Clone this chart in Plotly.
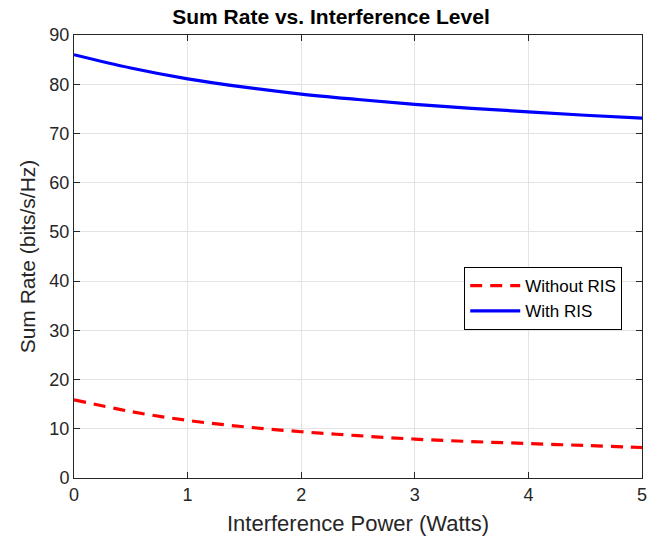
import plotly.graph_objects as go

interference_w = [0, 0.5, 1, 1.5, 2, 2.5, 3, 3.5, 4, 4.5, 5]
rate_without_ris = [15.9, 13.5, 11.7, 10.4, 9.4, 8.6, 7.9, 7.4, 7.0, 6.6, 6.2]
rate_with_ris = [86.0, 83.3, 81.1, 79.4, 78.0, 76.9, 75.9, 75.1, 74.4, 73.7, 73.1]
x_ticks = [0, 1, 2, 3, 4, 5]
y_ticks = [0, 10, 20, 30, 40, 50, 60, 70, 80, 90]

FONT = "Liberation Sans, Arial, Helvetica, sans-serif"
AX = "#262626"

fig = go.Figure()
fig.add_trace(go.Scatter(x=interference_w, y=rate_without_ris, mode="lines",
                         name="Without RIS", line=dict(color="#ff0000", width=3.2, dash="12px,8px", shape="spline")))
fig.add_trace(go.Scatter(x=interference_w, y=rate_with_ris, mode="lines",
                         name="With RIS", line=dict(color="#0000ff", width=3.2, shape="spline")))

axis_common = dict(showline=True, linecolor=AX, linewidth=1, mirror="ticks",
                   ticks="inside", ticklen=6, tickcolor=AX,
                   showgrid=True, gridcolor="#e3e3e3", gridwidth=1, zeroline=False,
                   tickfont=dict(family=FONT, size=18, color=AX))

fig.update_layout(
    width=662, height=545,
    margin=dict(l=74, r=20, t=35, b=67),
    paper_bgcolor="white", plot_bgcolor="white",
    title=dict(text="<b>Sum Rate vs. Interference Level</b>", x=0.5, xanchor="center",
               y=1 - 17 / 545, yanchor="middle", font=dict(family=FONT, size=21, color="black")),
    xaxis=dict(range=[0, 5], tickvals=x_ticks, title=dict(text="Interference Power (Watts)", standoff=12,
               font=dict(family=FONT, size=22, color=AX)), **axis_common),
    yaxis=dict(range=[0, 90], tickvals=y_ticks, title=dict(text="Sum Rate (bits/s/Hz)", standoff=8,
               font=dict(family=FONT, size=21, color=AX)), **axis_common),
    legend=dict(x=0.687, y=0.476, xanchor="left", yanchor="top", bgcolor="white",
                bordercolor="black", borderwidth=1, font=dict(family=FONT, size=17, color="black"),
                itemwidth=50, tracegroupgap=0),
    showlegend=True,
)

fig.write_html("out.html")
